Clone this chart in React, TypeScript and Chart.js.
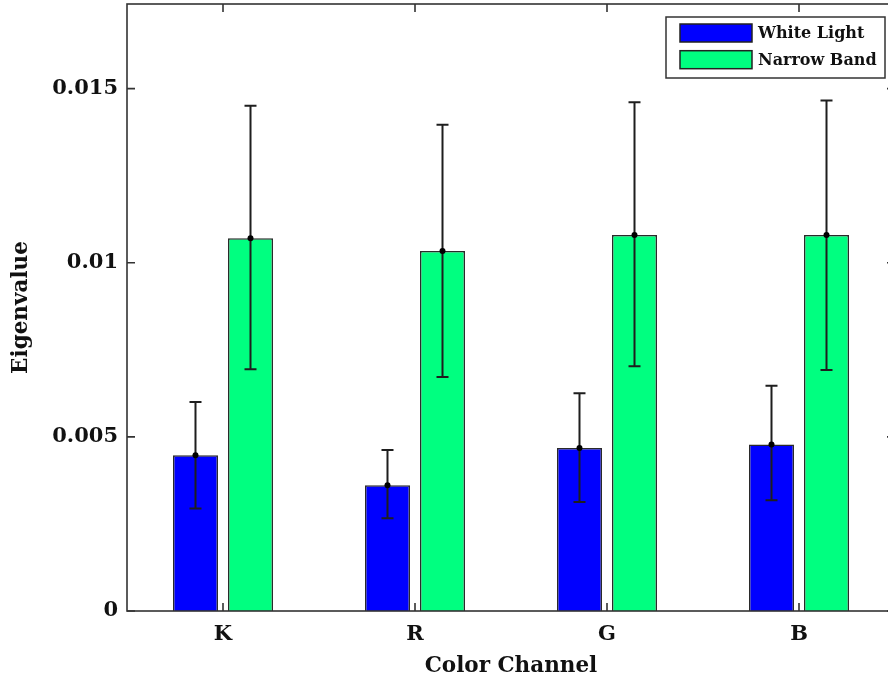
import React, { useEffect, useRef } from "react";
import { Chart, registerables } from "chart.js";

Chart.register(...registerables);

const categories = ["K", "R", "G", "B"];
const seriesNames = ["White Light", "Narrow Band"];
const seriesColors = ["#0000FF", "#00FF80"];
const whiteLight = [0.00447, 0.00361, 0.00468, 0.00478];
const whiteLightLow = [0.00294, 0.00266, 0.00313, 0.00318];
const whiteLightHigh = [0.0060, 0.00462, 0.00625, 0.00647];
const narrowBand = [0.0107, 0.01034, 0.0108, 0.0108];
const narrowBandLow = [0.00694, 0.00672, 0.00703, 0.00692];
const narrowBandHigh = [0.01451, 0.01396, 0.01461, 0.01466];
const yTickValues = [0, 0.005, 0.01, 0.015];
const yTickLabels = ["0", "0.005", "0.01", "0.015"];
const yMax = 0.01743;

const FONT = "'DejaVu Serif', 'Liberation Serif', serif";
const AXIS_COLOR = "#333333";

const lows = [whiteLightLow, narrowBandLow];
const highs = [whiteLightHigh, narrowBandHigh];

const errorBarPlugin = {
  id: "errorBars",
  afterDatasetsDraw(chart: any) {
    const ctx = chart.ctx;
    const y = chart.scales.y;
    ctx.save();
    chart.data.datasets.forEach((ds: any, di: number) => {
      const meta = chart.getDatasetMeta(di);
      meta.data.forEach((el: any, i: number) => {
        const x = el.x;
        const yt = y.getPixelForValue(highs[di][i]);
        const yb = y.getPixelForValue(lows[di][i]);
        ctx.strokeStyle = "#1e1e1e";
        ctx.lineWidth = 2;
        ctx.beginPath();
        ctx.moveTo(x, yt);
        ctx.lineTo(x, yb);
        ctx.moveTo(x - 6, yt);
        ctx.lineTo(x + 6, yt);
        ctx.moveTo(x - 6, yb);
        ctx.lineTo(x + 6, yb);
        ctx.stroke();
        ctx.fillStyle = "#000";
        ctx.beginPath();
        ctx.arc(x, el.y, 3, 0, Math.PI * 2);
        ctx.fill();
      });
    });
    ctx.restore();
  },
};

const frameAndLegendPlugin = {
  id: "frameLegend",
  afterDraw(chart: any) {
    const ctx = chart.ctx;
    const { left, right, top, bottom } = chart.chartArea;
    const xs = chart.scales.x;
    const ys = chart.scales.y;
    ctx.save();
    ctx.strokeStyle = AXIS_COLOR;
    ctx.lineWidth = 1.6;
    ctx.strokeRect(left, top, right - left, bottom - top);
    ctx.beginPath();
    const tl = 8;
    categories.forEach((_, i) => {
      const px = xs.getPixelForValue(i);
      ctx.moveTo(px, bottom);
      ctx.lineTo(px, bottom - tl);
      ctx.moveTo(px, top);
      ctx.lineTo(px, top + tl);
    });
    yTickValues.forEach((v) => {
      const py = ys.getPixelForValue(v);
      ctx.moveTo(left, py);
      ctx.lineTo(left + tl, py);
      ctx.moveTo(right, py);
      ctx.lineTo(right - tl, py);
    });
    ctx.stroke();

    // legend
    const lx = 666, ly = 17, lw = 219, lh = 61;
    ctx.fillStyle = "#ffffff";
    ctx.fillRect(lx, ly, lw, lh);
    ctx.strokeStyle = "#333333";
    ctx.lineWidth = 1.5;
    ctx.strokeRect(lx, ly, lw, lh);
    ctx.font = `bold 16px ${FONT}`;
    ctx.textBaseline = "middle";
    ctx.textAlign = "left";
    chart.data.datasets.forEach((ds: any, i: number) => {
      const sy = 24 + i * 26.7;
      ctx.fillStyle = ds.backgroundColor;
      ctx.fillRect(680, sy, 72, 18);
      ctx.strokeStyle = "#222";
      ctx.lineWidth = 1.5;
      ctx.strokeRect(680, sy, 72, 18);
      ctx.fillStyle = "#111";
      ctx.fillText(ds.label, 758, sy + 10);
    });
    ctx.restore();
  },
};

export default function App() {
  const ref = useRef<HTMLCanvasElement | null>(null);
  useEffect(() => {
    if (!ref.current) return;
    const chart = new Chart(ref.current, {
      type: "bar",
      data: {
        labels: categories,
        datasets: [
          {
            label: seriesNames[0],
            data: whiteLight,
            backgroundColor: seriesColors[0],
            borderColor: "#2a2a2a",
            borderWidth: 1.5,
            categoryPercentage: 0.573,
            barPercentage: 0.818,
          },
          {
            label: seriesNames[1],
            data: narrowBand,
            backgroundColor: seriesColors[1],
            borderColor: "#2a2a2a",
            borderWidth: 1.5,
            categoryPercentage: 0.573,
            barPercentage: 0.818,
          },
        ],
      },
      options: {
        responsive: false,
        animation: false,
        devicePixelRatio: 1,
        layout: { padding: { left: 0, top: 4, right: 5, bottom: 0 } },
        plugins: { legend: { display: false }, tooltip: { enabled: false } },
        scales: {
          x: {
            grid: { display: false },
            border: { display: false },
            ticks: {
              color: "#111",
              font: { family: FONT, size: 21, weight: "bold" },
              padding: 3,
            },
            title: {
              display: true,
              text: "Color Channel",
              color: "#111",
              font: { family: FONT, size: 21.5, weight: "bold" },
              padding: { top: 0, bottom: 3 },
            },
            afterFit(scale: any) {
              scale.height = 71;
              scale.paddingLeft = 0;
              scale.paddingRight = 0;
            },
          },
          y: {
            min: 0,
            max: yMax,
            grid: { display: false },
            border: { display: false },
            afterBuildTicks(scale: any) {
              scale.ticks = yTickValues.map((v) => ({ value: v }));
            },
            ticks: {
              color: "#111",
              font: { family: FONT, size: 21, weight: "bold" },
              padding: 1,
              callback: (v: any) => {
                const idx = yTickValues.indexOf(Number(v));
                return idx >= 0 ? yTickLabels[idx] : "";
              },
            },
            title: {
              display: true,
              text: "Eigenvalue",
              color: "#111",
              font: { family: FONT, size: 21.5, weight: "bold" },
              padding: { top: 9, bottom: 0 },
            },
            afterFit(scale: any) {
              scale.width = 127;
              scale.paddingTop = 0;
              scale.paddingBottom = 0;
            },
          },
        },
      },
      plugins: [errorBarPlugin, frameAndLegendPlugin],
    });
    return () => chart.destroy();
  }, []);
  return (
    <div
      style={{
        position: "fixed",
        left: 0,
        top: 0,
        width: 888,
        height: 682,
        overflow: "hidden",
        background: "#fff",
      }}
    >
      <canvas ref={ref} width={900} height={682} style={{ display: "block" }} />
    </div>
  );
}
